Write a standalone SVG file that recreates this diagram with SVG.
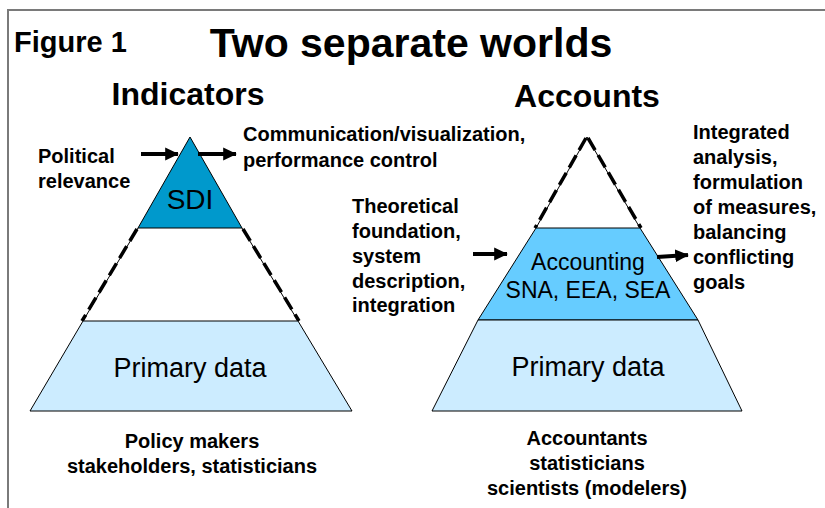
<svg xmlns="http://www.w3.org/2000/svg" width="825" height="508" viewBox="0 0 825 508">
<style>
  .b { font-family: "Liberation Sans", Arial, sans-serif; font-weight: bold; fill: #000; }
  .n { font-family: "Liberation Sans", Arial, sans-serif; font-weight: normal; fill: #000; }
  .lbl { font-size: 20px; }
  .edge { stroke: #000; stroke-width: 1; }
  .dash { stroke: #000; stroke-width: 3.5; stroke-dasharray: 14 6; fill: none; }
  .thin { stroke: #000; stroke-width: 1; fill: none; }
  .arr { stroke: #000; stroke-width: 4; fill: none; marker-end: url(#ah); }
</style>
<defs>
  <marker id="ah" markerWidth="4" markerHeight="4" refX="3.2" refY="2" orient="auto" markerUnits="strokeWidth">
    <path d="M0,0.4 L3.4,2 L0,3.6 Z" fill="#000"/>
  </marker>
</defs>
<rect width="825" height="508" fill="#fff"/>
<path d="M8,508 L8,10 L825,10" fill="none" stroke="#7a7a7a" stroke-width="2"/>

<text class="b" x="14" y="52" font-size="29">Figure 1</text>
<text class="b" x="411" y="57" font-size="41" text-anchor="middle">Two separate worlds</text>
<text class="b" x="188" y="105" font-size="32" text-anchor="middle">Indicators</text>
<text class="b" x="587" y="107" font-size="32" text-anchor="middle">Accounts</text>

<g id="left-pyramid">
  <g id="sdi">
    <polygon points="190,137 242,228 138,228" fill="#0099CC" class="edge"/>
    <text class="n" x="190" y="209" font-size="28" text-anchor="middle">SDI</text>
  </g>
  <g id="left-middle">
    <line class="thin" x1="138" y1="228" x2="83" y2="321"/>
    <line class="thin" x1="242" y1="228" x2="298" y2="321"/>
    <line class="dash" x1="137" y1="229" x2="82" y2="321"/>
    <line class="dash" x1="243" y1="229" x2="299" y2="321"/>
  </g>
  <g id="left-primary">
    <polygon points="83,321 298,321 352,411 30,411" fill="#CCECFF" class="edge"/>
    <text class="n" x="190" y="377" font-size="27" text-anchor="middle">Primary data</text>
  </g>
</g>

<g id="right-pyramid">
  <g id="right-top">
    <line class="thin" x1="587" y1="137" x2="536" y2="228"/>
    <line class="thin" x1="587" y1="137" x2="640" y2="228"/>
    <line class="dash" x1="586" y1="138" x2="535" y2="228"/>
    <line class="dash" x1="588" y1="138" x2="641" y2="228"/>
  </g>
  <g id="accounting">
    <polygon points="536,228 640,228 698,320 478,320" fill="#66CCFF" class="edge"/>
    <text class="n" x="588" y="270" font-size="23" text-anchor="middle">Accounting</text>
    <text class="n" x="588" y="298" font-size="23" text-anchor="middle">SNA, EEA, SEA</text>
  </g>
  <g id="right-primary">
    <polygon points="478,320 698,320 742,411 432,411" fill="#CCECFF" class="edge"/>
    <text class="n" x="588" y="376" font-size="27" text-anchor="middle">Primary data</text>
  </g>
</g>

<g id="connectors">
  <line class="arr" x1="141" y1="154" x2="178" y2="154"/>
  <line class="arr" x1="198" y1="154" x2="236" y2="154"/>
  <line class="arr" x1="473" y1="254" x2="507" y2="254"/>
  <line class="arr" x1="657" y1="257" x2="688" y2="255"/>
</g>

<g id="labels">
  <text class="b lbl" x="38" y="163">Political</text>
  <text class="b lbl" x="38" y="188">relevance</text>
  <text class="b lbl" x="243" y="141">Communication/visualization,</text>
  <text class="b lbl" x="243" y="167">performance control</text>
  <text class="b lbl" x="352" y="213">Theoretical</text>
  <text class="b lbl" x="352" y="238">foundation,</text>
  <text class="b lbl" x="352" y="263">system</text>
  <text class="b lbl" x="352" y="288">description,</text>
  <text class="b lbl" x="352" y="312">integration</text>
  <text class="b lbl" x="693" y="139">Integrated</text>
  <text class="b lbl" x="693" y="164">analysis,</text>
  <text class="b lbl" x="693" y="189">formulation</text>
  <text class="b lbl" x="693" y="214">of measures,</text>
  <text class="b lbl" x="693" y="239">balancing</text>
  <text class="b lbl" x="693" y="264">conflicting</text>
  <text class="b lbl" x="693" y="289">goals</text>
  <text class="b lbl" x="192" y="448" text-anchor="middle">Policy makers</text>
  <text class="b lbl" x="192" y="473" text-anchor="middle">stakeholders, statisticians</text>
  <text class="b lbl" x="587" y="445" text-anchor="middle">Accountants</text>
  <text class="b lbl" x="587" y="470" text-anchor="middle">statisticians</text>
  <text class="b lbl" x="587" y="495" text-anchor="middle">scientists (modelers)</text>
</g>
</svg>
